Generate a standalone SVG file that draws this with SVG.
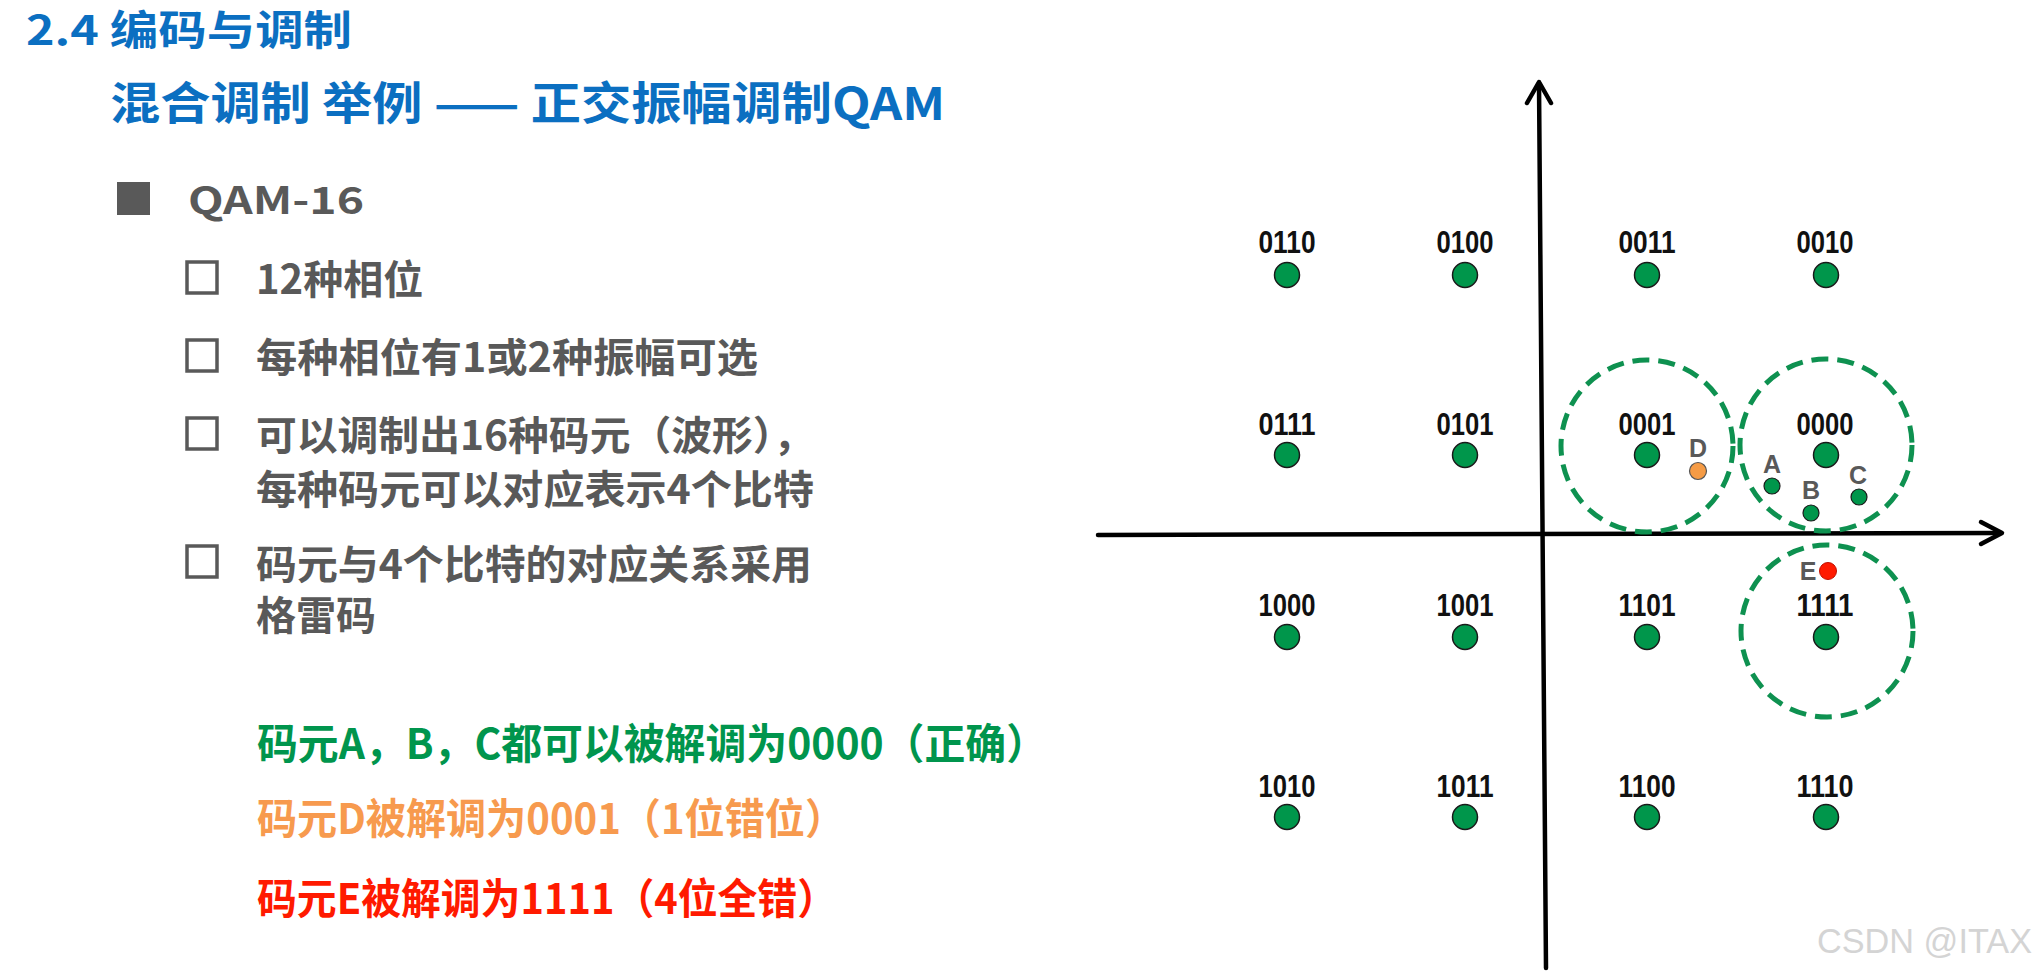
<svg xmlns="http://www.w3.org/2000/svg" width="2037" height="975" viewBox="0 0 2037 975">
<style>
.cjk{font-family:"Noto Sans CJK SC","Noto Sans",sans-serif;font-weight:bold}
.blue{fill:#0B6FC1}
.grey{fill:#595959}
.lbl{font-family:"Liberation Sans",Arial,sans-serif;font-weight:bold;font-size:32px;fill:#111;text-anchor:middle}
.pt{fill:#00964B;stroke:#1a1a1a;stroke-width:1.5}
.ring{fill:none;stroke:#0E9150;stroke-width:5;stroke-dasharray:17 9}
.axis{stroke:#000;stroke-width:4.5;fill:none;stroke-linecap:round;stroke-linejoin:round}
.sm{font-family:"Liberation Sans",Arial,sans-serif;font-weight:bold;font-size:25px;fill:#595959;text-anchor:middle}
.box{fill:none;stroke:#595959;stroke-width:3.5}
</style>
<rect width="2037" height="975" fill="#fff"/>

<g id="title">
<text class="cjk blue" x="26" y="45" font-size="41" textLength="326" lengthAdjust="spacingAndGlyphs">2.4 编码与调制</text>
<text class="cjk blue" x="110" y="120" font-size="45" textLength="835" lengthAdjust="spacingAndGlyphs">混合调制 举例 —— 正交振幅调制QAM</text>
</g>

<g id="bullets">
<rect x="117" y="182" width="33" height="33" fill="#595959"/>
<text class="cjk grey" x="188" y="214" font-size="38" textLength="176" lengthAdjust="spacingAndGlyphs">QAM-16</text>
<rect class="box" x="187" y="262" width="30" height="31"/>
<text class="cjk grey" x="256" y="294" font-size="40">12种相位</text>
<rect class="box" x="187" y="340" width="30" height="31"/>
<text class="cjk grey" x="256" y="372" font-size="40" textLength="502" lengthAdjust="spacingAndGlyphs">每种相位有1或2种振幅可选</text>
<rect class="box" x="187" y="418" width="30" height="31"/>
<text class="cjk grey" x="256" y="450" font-size="40" textLength="558" lengthAdjust="spacingAndGlyphs">可以调制出16种码元（波形），</text>
<text class="cjk grey" x="256" y="504" font-size="40" textLength="558" lengthAdjust="spacingAndGlyphs">每种码元可以对应表示4个比特</text>
<rect class="box" x="187" y="546" width="30" height="31"/>
<text class="cjk grey" x="256" y="579" font-size="40" textLength="556" lengthAdjust="spacingAndGlyphs">码元与4个比特的对应关系采用</text>
<text class="cjk grey" x="256" y="630" font-size="40">格雷码</text>
</g>

<g id="results">
<text class="cjk" fill="#00954D" x="257" y="759" font-size="42" textLength="790" lengthAdjust="spacingAndGlyphs">码元A，B，C都可以被解调为0000（正确）</text>
<text class="cjk" fill="#F79A4E" x="257" y="834" font-size="42" textLength="588" lengthAdjust="spacingAndGlyphs">码元D被解调为0001（1位错位）</text>
<text class="cjk" fill="#FF1A00" x="257" y="914" font-size="42" textLength="580" lengthAdjust="spacingAndGlyphs">码元E被解调为1111（4位全错）</text>
</g>

<g id="connectors">
<path class="axis" d="M1098 535 L2001 533"/>
<path class="axis" d="M1981 522 L2002 533 L1981 544"/>
<path class="axis" d="M1539 83 L1546 968"/>
<path class="axis" d="M1527 103 L1539 82 L1551 103"/>
</g>

<g id="regions">
<circle class="ring" cx="1647" cy="446" r="86"/>
<circle class="ring" cx="1826" cy="445" r="86"/>
<circle class="ring" cx="1827" cy="631" r="86"/>
</g>

<g id="pt-0110"><text class="lbl" x="1287" y="253" textLength="57" lengthAdjust="spacingAndGlyphs">0110</text><circle class="pt" cx="1287" cy="275" r="12.5"/></g>
<g id="pt-0100"><text class="lbl" x="1465" y="253" textLength="57" lengthAdjust="spacingAndGlyphs">0100</text><circle class="pt" cx="1465" cy="275" r="12.5"/></g>
<g id="pt-0011"><text class="lbl" x="1647" y="253" textLength="57" lengthAdjust="spacingAndGlyphs">0011</text><circle class="pt" cx="1647" cy="275" r="12.5"/></g>
<g id="pt-0010"><text class="lbl" x="1825" y="253" textLength="57" lengthAdjust="spacingAndGlyphs">0010</text><circle class="pt" cx="1826" cy="275" r="12.5"/></g>

<g id="pt-0111"><text class="lbl" x="1287" y="435" textLength="57" lengthAdjust="spacingAndGlyphs">0111</text><circle class="pt" cx="1287" cy="455" r="12.5"/></g>
<g id="pt-0101"><text class="lbl" x="1465" y="435" textLength="57" lengthAdjust="spacingAndGlyphs">0101</text><circle class="pt" cx="1465" cy="455" r="12.5"/></g>
<g id="pt-0001"><text class="lbl" x="1647" y="435" textLength="57" lengthAdjust="spacingAndGlyphs">0001</text><circle class="pt" cx="1647" cy="455" r="12.5"/></g>
<g id="pt-0000"><text class="lbl" x="1825" y="435" textLength="57" lengthAdjust="spacingAndGlyphs">0000</text><circle class="pt" cx="1826" cy="455" r="12.5"/></g>

<g id="pt-1000"><text class="lbl" x="1287" y="616" textLength="57" lengthAdjust="spacingAndGlyphs">1000</text><circle class="pt" cx="1287" cy="637" r="12.5"/></g>
<g id="pt-1001"><text class="lbl" x="1465" y="616" textLength="57" lengthAdjust="spacingAndGlyphs">1001</text><circle class="pt" cx="1465" cy="637" r="12.5"/></g>
<g id="pt-1101"><text class="lbl" x="1647" y="616" textLength="57" lengthAdjust="spacingAndGlyphs">1101</text><circle class="pt" cx="1647" cy="637" r="12.5"/></g>
<g id="pt-1111"><text class="lbl" x="1825" y="616" textLength="57" lengthAdjust="spacingAndGlyphs">1111</text><circle class="pt" cx="1826" cy="637" r="12.5"/></g>

<g id="pt-1010"><text class="lbl" x="1287" y="797" textLength="57" lengthAdjust="spacingAndGlyphs">1010</text><circle class="pt" cx="1287" cy="817" r="12.5"/></g>
<g id="pt-1011"><text class="lbl" x="1465" y="797" textLength="57" lengthAdjust="spacingAndGlyphs">1011</text><circle class="pt" cx="1465" cy="817" r="12.5"/></g>
<g id="pt-1100"><text class="lbl" x="1647" y="797" textLength="57" lengthAdjust="spacingAndGlyphs">1100</text><circle class="pt" cx="1647" cy="817" r="12.5"/></g>
<g id="pt-1110"><text class="lbl" x="1825" y="797" textLength="57" lengthAdjust="spacingAndGlyphs">1110</text><circle class="pt" cx="1826" cy="817" r="12.5"/></g>

<g id="sym-A"><text class="sm" x="1772" y="473">A</text><circle cx="1772" cy="486" r="8" fill="#00964B" stroke="#1a1a1a" stroke-width="1.2"/></g>
<g id="sym-B"><text class="sm" x="1811" y="499">B</text><circle cx="1811" cy="513" r="8" fill="#00964B" stroke="#1a1a1a" stroke-width="1.2"/></g>
<g id="sym-C"><text class="sm" x="1858" y="484">C</text><circle cx="1859" cy="497" r="8" fill="#00964B" stroke="#1a1a1a" stroke-width="1.2"/></g>
<g id="sym-D"><text class="sm" x="1698" y="457">D</text><circle cx="1698" cy="471" r="8.5" fill="#F59B45" stroke="#555" stroke-width="1.2"/></g>
<g id="sym-E"><text class="sm" x="1808" y="580">E</text><circle cx="1828" cy="571" r="8.5" fill="#FF1A00" stroke="#c01000" stroke-width="1"/></g>

<text x="1817" y="953" font-family="Liberation Sans, Arial, sans-serif" font-size="35" fill="#d4d4d4" textLength="215" lengthAdjust="spacingAndGlyphs">CSDN @ITAX</text>
</svg>
